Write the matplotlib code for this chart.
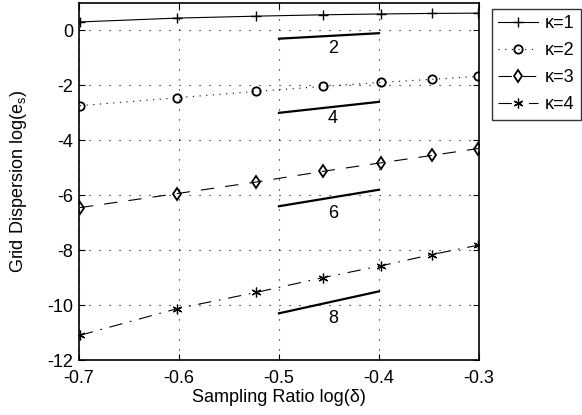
import matplotlib
matplotlib.use("Agg")
import matplotlib.pyplot as plt

plt.rcParams["font.family"] = ["Liberation Sans", "DejaVu Sans"]
plt.rcParams["mathtext.fontset"] = "custom"
plt.rcParams["mathtext.rm"] = "Liberation Sans"
plt.rcParams["mathtext.it"] = "Liberation Sans"

# sampling ratio log(delta)
log_delta = [-0.699, -0.602, -0.523, -0.456, -0.398, -0.347, -0.301]

# grid dispersion log(e_s) per order kappa
k1 = [0.31, 0.45, 0.52, 0.57, 0.60, 0.62, 0.63]
k2 = [-2.74, -2.45, -2.22, -2.04, -1.89, -1.78, -1.67]
k3 = [-6.45, -5.94, -5.52, -5.13, -4.82, -4.55, -4.30]
k4 = [-11.1, -10.13, -9.54, -9.0, -8.57, -8.16, -7.82]

# reference slope segments
slope_x = [-0.5, -0.4]
slope_labels = ["2", "4", "6", "8"]
slope_y = [[-0.3, -0.1], [-3.0, -2.6], [-6.4, -5.8], [-10.3, -9.5]]
label_y = [-0.67, -3.2, -6.67, -10.5]

FS = 13

fig = plt.figure(figsize=(5.82, 4.15), dpi=100)
ax = fig.add_axes([0.1357, 0.1325, 0.6873, 0.8603])

lw = 0.8
ax.plot(log_delta, k1, "k-", marker="+", ms=7, lw=lw, label="κ=1")
ax.plot(log_delta, k2, "k", marker="o", ms=6, mfc="none", mew=1.3, lw=lw,
        dashes=(1, 5), label="κ=2")
ax.plot(log_delta, k3, "k", marker="d", ms=6, mfc="none", mew=1.3, lw=lw,
        dashes=(12, 10), label="κ=3")
ax.plot(log_delta, k4, "k", marker=(6, 2, 0), ms=7, mew=0.9, lw=lw,
        dashes=(12, 7, 1.5, 7), label="κ=4")

for name, ys, ly in zip(slope_labels, slope_y, label_y):
    ax.plot(slope_x, ys, "k-", lw=1.6)
    ax.text(-0.446, ly, name, ha="center", va="center", fontsize=FS)

ax.set_xlim(-0.7, -0.3)
ax.set_ylim(-12, 1)
ax.set_xticks([-0.7, -0.6, -0.5, -0.4, -0.3])
ax.set_xticklabels(["-0.7", "-0.6", "-0.5", "-0.4", "-0.3"])
ax.set_yticks([-12, -10, -8, -6, -4, -2, 0])
ax.set_yticklabels(["-12", "-10", "-8", "-6", "-4", "-2", "0"])
ax.tick_params(direction="in", top=True, right=True, labelsize=FS, length=4)
ax.tick_params(axis="x", pad=7)
ax.tick_params(axis="y", pad=4)
ax.grid(True, color="k", linestyle=(0, (1, 8)), linewidth=0.8)
for s in ax.spines.values():
    s.set_linewidth(1.2)

ax.set_xlabel("Sampling Ratio log(δ)", fontsize=FS)
ax.set_ylabel("Grid Dispersion log(e$_s$)", fontsize=FS)
ax.xaxis.set_label_coords(0.5, -0.104)
ax.yaxis.set_label_coords(-0.15, 0.5)
ax.xaxis.label.set_va("center")
ax.yaxis.label.set_va("center")

leg = ax.legend(loc="upper left", bbox_to_anchor=(0.845, 0.978),
                bbox_transform=fig.transFigure, fontsize=FS, frameon=True,
                fancybox=False, edgecolor="k", handlelength=2.2,
                handletextpad=0.4, borderpad=0.35, labelspacing=0.55,
                borderaxespad=0)
leg.get_frame().set_linewidth(1.0)

fig.savefig("out.png", dpi=100)
